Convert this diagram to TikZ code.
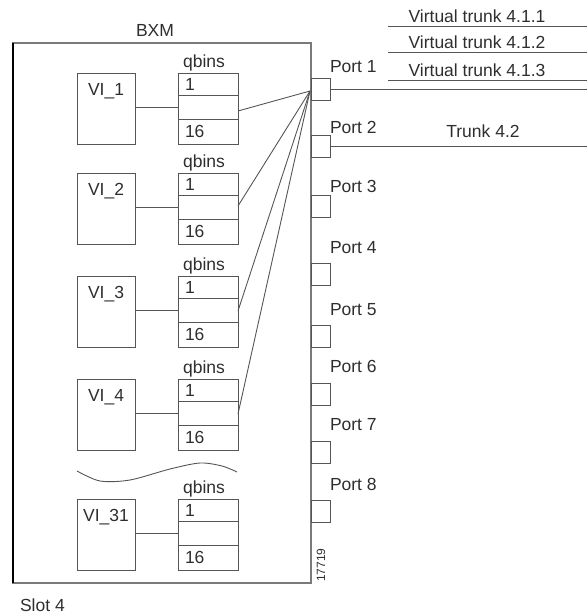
\documentclass[tikz,border=0pt]{standalone}
\usepackage{fontspec}
\setmainfont{Liberation Sans}
\definecolor{ln}{HTML}{555555}
\definecolor{frame}{HTML}{7A7A7A}
\definecolor{txt}{HTML}{2E2E2E}
\begin{document}
\begin{tikzpicture}[x=1pt,y=-1pt,
  every node/.style={font=\fontsize{17.5}{20}\selectfont, text=txt, inner sep=0pt, outer sep=0pt},
  wire/.style={draw=ln, line width=0.9pt},
  vibox/.style={draw=ln, line width=0.9pt, minimum width=58pt, minimum height=71pt},
  cell/.style={draw=ln, line width=0.9pt, minimum width=60pt},
  portbox/.style={draw=ln, line width=0.9pt, minimum width=19pt, minimum height=22pt},
  mainbox/.style={draw=frame, line width=1.9pt, minimum width=298pt, minimum height=540pt}]
\useasboundingbox (0,0) rectangle (587,614);
% main BXM box
\node[mainbox] (bxm) at (162,313) {};
\draw[black, line width=1.6pt] (bxm.north west) -- (bxm.south west);
\node[anchor=base] (bxml) at (155,36) {BXM};
% VI boxes and qbins
\foreach \n/\t in {1/73,2/173,3/276,4/379,31/499} {
  \node[vibox, anchor=north west] (vi\n) at (77,\t) {};
  \node[anchor=base] (vil\n) at ([yshift=-22pt]vi\n.north) {VI\_\n};
  \node[cell, minimum height=22pt, anchor=north west] (qa\n) at (178,\t) {};
  \node[cell, minimum height=24pt, anchor=north] (qb\n) at (qa\n.south) {};
  \node[cell, minimum height=25pt, anchor=north] (qc\n) at (qb\n.south) {};
  \node[anchor=west] (qal\n) at ([xshift=7pt]qa\n.west) {1};
  \node[anchor=west] (qcl\n) at ([xshift=7pt]qc\n.west) {16};
  \node[anchor=base] (qt\n) at ([xshift=-4pt,yshift=6pt]qa\n.north) {qbins};
  \draw[wire] (qb\n.west -| vi\n.east) -- (qb\n.west);
}
% separator wave
\draw[wire] plot[smooth] coordinates {(77,471) (100,481) (130,480) (170,469) (200,463) (222,466) (237,472)};
% ports
\foreach \p/\t/\b in {1/78/72,2/135/133,3/195/192,4/263/253,5/325/315,6/383/372,7/441/430,8/500/490} {
  \node[portbox, anchor=north west] (p\p) at (311,\t) {};
  \node[anchor=base west] (pl\p) at (330,\b) {Port \p};
}
% fan of connections to port 1
\coordinate (hub) at (310,91);
\foreach \n/\s in {1/-4,2/1,3/-1,4/-1} {
  \draw[wire] ([yshift=\s pt]qb\n.east) -- (hub);
}
% trunks
\coordinate (edge) at (587,0);
\draw[wire] (p1.east) -- (p1.east -| edge);
\draw[wire] (p2.east) -- (p2.east -| edge);
\foreach \i/\y in {1/26,2/52,3/80} {
  \coordinate (va\i) at (388,\y);
  \coordinate (vb\i) at (587,\y);
  \draw[wire] (va\i) -- (vb\i);
  \node[anchor=base] (vt\i) at (477,\y-4) {Virtual trunk 4.1.\i};
}
\node[anchor=base] (t42) at (483,137) {Trunk 4.2};
% labels
\node[anchor=base west] (slot) at (20,611) {Slot 4};
\node[rotate=90, font=\fontsize{12}{14}\selectfont] (fig) at (321,565) {17719};
\end{tikzpicture}
\end{document}
